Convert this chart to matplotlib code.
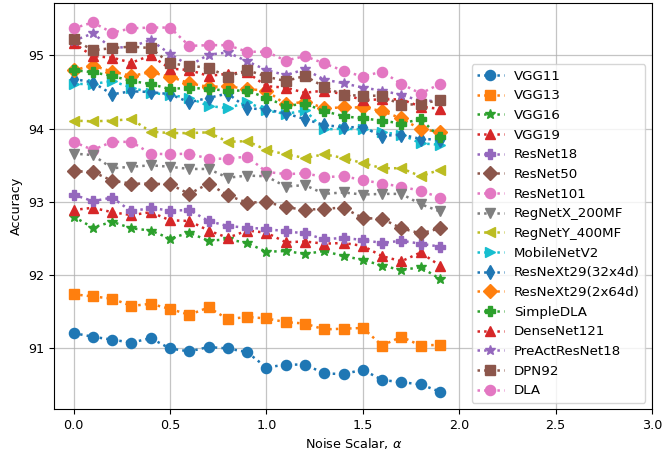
# Accuracy vs noise scalar for CIFAR-style models

import matplotlib
matplotlib.use("Agg")
import matplotlib.pyplot as plt


# Data ............................................................................................

alpha = [0.0, 0.1, 0.2, 0.3, 0.4, 0.5, 0.6, 0.7, 0.8, 0.9,
         1.0, 1.1, 1.2, 1.3, 1.4, 1.5, 1.6, 1.7, 1.8, 1.9]

vgg11 = [91.21, 91.16, 91.12, 91.08, 91.14, 91.00, 90.96, 91.02, 91.00, 90.95,
         90.74, 90.78, 90.78, 90.66, 90.65, 90.71, 90.57, 90.54, 90.51, 90.41]
vgg13 = [91.74, 91.71, 91.68, 91.58, 91.61, 91.54, 91.46, 91.56, 91.40, 91.43,
         91.41, 91.36, 91.34, 91.26, 91.27, 91.28, 91.04, 91.16, 91.04, 91.05]
vgg16 = [92.80, 92.65, 92.73, 92.64, 92.61, 92.50, 92.58, 92.47, 92.49, 92.44,
         92.32, 92.33, 92.29, 92.33, 92.26, 92.21, 92.13, 92.07, 92.11, 91.95]
vgg19 = [92.89, 92.92, 92.86, 92.82, 92.86, 92.75, 92.74, 92.61, 92.51, 92.61,
         92.58, 92.45, 92.46, 92.43, 92.44, 92.40, 92.26, 92.19, 92.31, 92.13]
resnet18 = [93.10, 93.01, 93.06, 92.87, 92.92, 92.88, 92.89, 92.74, 92.67, 92.65,
            92.63, 92.60, 92.57, 92.49, 92.51, 92.48, 92.44, 92.47, 92.43, 92.39]
resnet50 = [93.42, 93.41, 93.29, 93.25, 93.25, 93.24, 93.11, 93.25, 93.09, 92.99,
            93.00, 92.93, 92.89, 92.91, 92.92, 92.78, 92.77, 92.64, 92.57, 92.64]
resnet101 = [93.82, 93.71, 93.82, 93.82, 93.66, 93.65, 93.66, 93.59, 93.59, 93.62,
             93.41, 93.38, 93.39, 93.34, 93.35, 93.30, 93.25, 93.21, 93.15, 93.06]
regnetx = [93.66, 93.64, 93.46, 93.48, 93.50, 93.48, 93.45, 93.45, 93.33, 93.36,
           93.35, 93.21, 93.23, 93.11, 93.13, 93.10, 93.11, 93.11, 92.97, 92.87]
regnety = [94.11, 94.10, 94.11, 94.13, 93.96, 93.94, 93.94, 93.95, 93.82, 93.83,
           93.71, 93.65, 93.60, 93.65, 93.60, 93.53, 93.46, 93.46, 93.35, 93.44]
mobilenetv2 = [94.61, 94.61, 94.65, 94.56, 94.49, 94.46, 94.42, 94.31, 94.28, 94.36,
               94.25, 94.20, 94.25, 93.99, 94.00, 93.99, 93.95, 93.92, 93.80, 93.78]
resnext_32x4d = [94.68, 94.63, 94.47, 94.51, 94.50, 94.47, 94.36, 94.42, 94.48, 94.28,
                 94.26, 94.21, 94.13, 94.05, 94.02, 94.02, 93.90, 93.92, 93.86, 93.85]
resnext_2x64d = [94.80, 94.86, 94.78, 94.72, 94.77, 94.71, 94.62, 94.57, 94.58, 94.54,
                 94.52, 94.33, 94.37, 94.28, 94.29, 94.29, 94.24, 94.14, 93.99, 93.96]
simpledla = [94.80, 94.77, 94.72, 94.65, 94.61, 94.54, 94.56, 94.54, 94.52, 94.52,
             94.42, 94.31, 94.34, 94.24, 94.17, 94.14, 94.11, 94.07, 94.13, 93.88]
densenet121 = [95.17, 94.99, 94.97, 94.90, 95.00, 94.82, 94.80, 94.72, 94.75, 94.77,
               94.58, 94.56, 94.49, 94.52, 94.47, 94.39, 94.40, 94.40, 94.30, 94.27]
preact18 = [95.20, 95.30, 95.10, 95.12, 95.21, 95.02, 94.86, 95.01, 95.04, 94.92,
            94.80, 94.73, 94.81, 94.67, 94.62, 94.56, 94.52, 94.46, 94.38, 94.38]
dpn92 = [95.22, 95.07, 95.10, 95.12, 95.10, 94.89, 94.86, 94.83, 94.71, 94.80,
         94.71, 94.65, 94.72, 94.57, 94.46, 94.45, 94.45, 94.32, 94.34, 94.39]
dla = [95.37, 95.45, 95.31, 95.37, 95.38, 95.38, 95.13, 95.14, 95.14, 95.05,
       95.05, 94.93, 94.99, 94.89, 94.79, 94.71, 94.78, 94.61, 94.48, 94.61]

models = ['VGG11', 'VGG13', 'VGG16', 'VGG19', 'ResNet18', 'ResNet50', 'ResNet101',
          'RegNetX_200MF', 'RegNetY_400MF', 'MobileNetV2', 'ResNeXt29(32x4d)',
          'ResNeXt29(2x64d)', 'SimpleDLA', 'DenseNet121', 'PreActResNet18', 'DPN92', 'DLA']
series = [vgg11, vgg13, vgg16, vgg19, resnet18, resnet50, resnet101, regnetx, regnety,
          mobilenetv2, resnext_32x4d, resnext_2x64d, simpledla, densenet121, preact18, dpn92, dla]
markers = ['o', 's', '*', '^', 'P', 'D', 'o', 'v', '<', '>', 'd', 'D', 'P', '^', '*', 's', 'o']


# Plot ............................................................................................

plt.rcParams['font.size'] = 9.2

fig = plt.figure(figsize = (6.62, 4.51), dpi = 100)
ax = fig.add_axes([0.082, 0.0925, 0.903, 0.900])

for i, (name, acc, m) in enumerate(zip(models, series, markers)):
    ax.plot(alpha, acc, ls = ':', lw = 1.8, marker = m, markersize = 7.3,
            color = f'C{i % 10}', label = name)

ax.set_xlim(-0.1, 3.0)
ax.set_ylim(90.17, 95.71)
ax.set_xticks([0.0, 0.5, 1.0, 1.5, 2.0, 2.5, 3.0])
ax.set_yticks([91, 92, 93, 94, 95])
ax.grid(True, color = '#b0b0b0', lw = 0.9, alpha = 0.75)
ax.set_axisbelow(True)
ax.set_xlabel(r'Noise Scalar, $\alpha$', labelpad = 3)
ax.set_ylabel('Accuracy')
ax.legend(loc = 'lower right', fontsize = 9.6, labelspacing = 0.5)

fig.savefig('out.png', dpi = 100)
